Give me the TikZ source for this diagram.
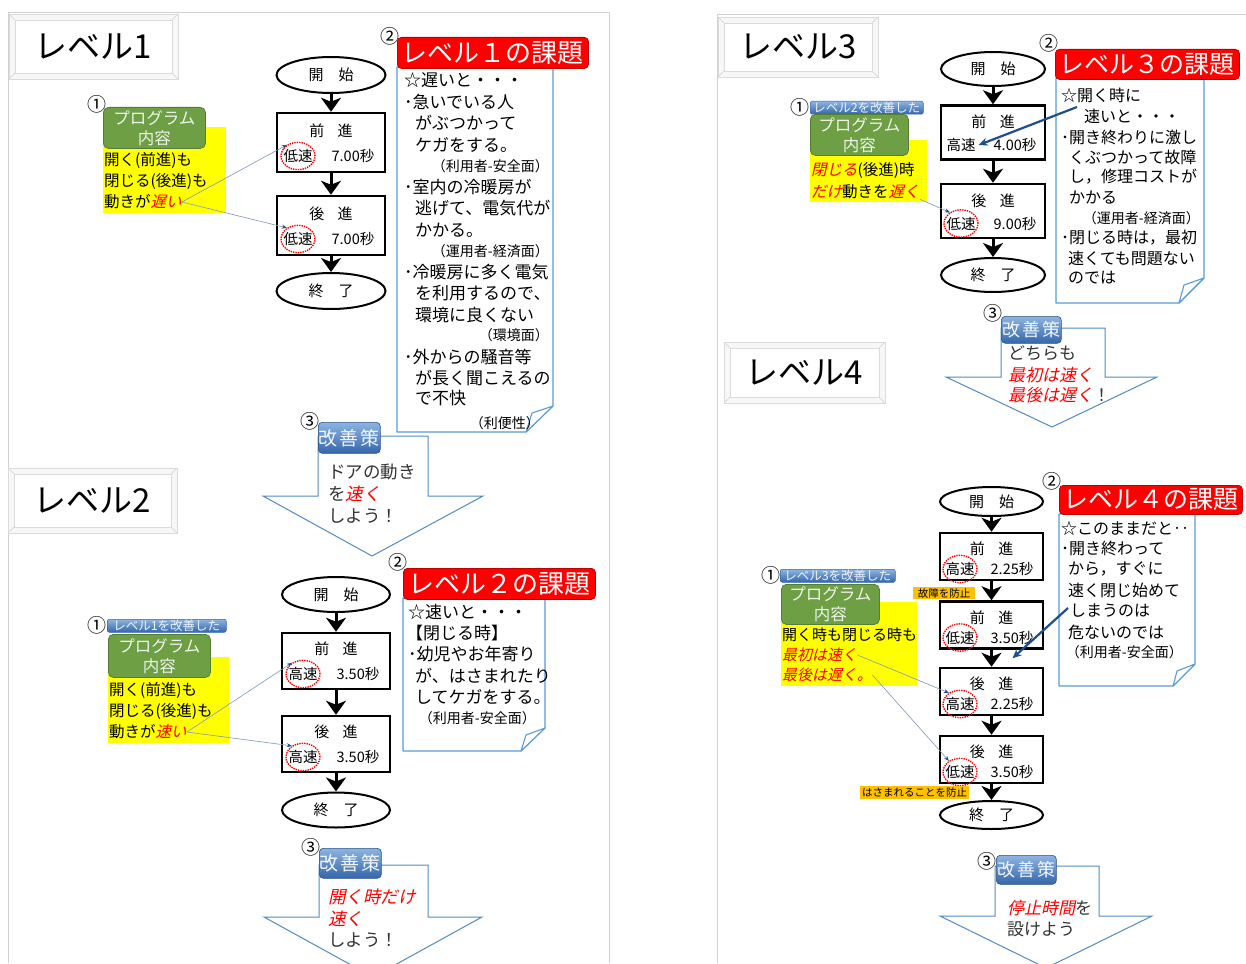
\documentclass[tikz,border=0pt]{standalone}
\usepackage{fontspec}
\setmainfont{Noto Sans CJK JP}
\newfontfamily\jpslant[FakeSlant=0.22]{Noto Sans CJK JP}
\usepackage{tikz}
\usetikzlibrary{arrows.meta,positioning,calc,shapes.geometric}
\definecolor{darkred}{HTML}{C00000}
\definecolor{leaf}{HTML}{6E9F45}
\definecolor{leafdark}{HTML}{557D33}
\definecolor{lemon}{HTML}{FFFF00}
\definecolor{amber}{HTML}{FFC000}
\definecolor{steel}{HTML}{5B9BD5}
\definecolor{navy}{HTML}{1F4E8C}
\definecolor{linkblue}{HTML}{7F96B8}
\definecolor{skytop}{HTML}{8DB4E2}
\definecolor{skybot}{HTML}{3466AA}
\definecolor{frame}{HTML}{D0D0D0}
\newcommand{\redit}[1]{{\color{red}\jpslant #1}}

\begin{document}
\begin{tikzpicture}[x=1pt,y=-1pt,
  panel/.style={draw=frame,line width=0.9pt},
  bevel/.style={draw=gray!28,line width=0.8pt},
  lvtitle/.style={font=\fontsize{33}{33}\selectfont,inner sep=0pt},
  terminal/.style={ellipse,draw,line width=2pt,font=\fontsize{15}{15}\selectfont,inner sep=0pt},
  proc/.style={draw,line width=2.5pt,inner sep=0pt},
  phead/.style={font=\fontsize{15}{15}\selectfont,inner sep=0pt},
  pspeed/.style={font=\fontsize{14.5}{15}\selectfont,inner sep=0pt},
  ring/.style={ellipse,draw=red,densely dotted,line width=1.4pt,inner xsep=-2.5pt,inner ysep=3pt},
  noring/.style={},
  flow/.style={line width=3pt,-{Stealth[length=14pt,width=20pt,inset=4pt]}},
  num/.style={font=\fontsize{19}{19}\selectfont,inner sep=0pt},
  prog/.style={rounded corners=5pt,fill=leaf,draw=leafdark,line width=0.8pt,text=white!88!leaf,
    align=center,font=\fontsize{16.5}{20}\selectfont,inner sep=0pt,anchor=north west},
  memo/.style={fill=lemon,inner sep=0pt,anchor=north west},
  memotext/.style={font=\fontsize{15.5}{16}\selectfont,inner sep=0pt,anchor=west},
  badge/.style={rounded corners=2pt,top color=skytop,bottom color=skybot,draw=skybot,line width=0.5pt,
    text=white!85!skytop,font=\fontsize{12.5}{12.5}\selectfont,inner sep=0pt,anchor=north west},
  leader/.style={draw=linkblue,line width=0.6pt,-{Stealth[length=5pt,width=4pt,color=navy]}},
  issue/.style={rounded corners=4pt,fill=red,draw=darkred,line width=0.8pt,text=white,
    font=\fontsize{26}{26}\selectfont,inner sep=0pt,anchor=north west},
  sheet/.style={draw=steel,fill=white,line width=1.1pt,line join=round},
  note/.style={font=\fontsize{17}{17}\selectfont,inner sep=0pt,anchor=west},
  notes/.style={font=\fontsize{16}{16}\selectfont,inner sep=0pt,anchor=west},
  facet/.style={font=\fontsize{14}{14}\selectfont,inner sep=0pt,anchor=east},
  hint/.style={draw=navy,line width=2.2pt,-{Stealth[length=9pt,width=8pt]}},
  remedy/.style={rounded corners=4pt,top color=skytop,bottom color=skybot,draw=skybot!80!black,line width=0.6pt,
    text=white!90!skytop,font=\fontsize{19}{19}\selectfont,inner sep=0pt,anchor=north west},
  downshape/.style={draw=steel!90!black,fill=white,line width=1pt},
  advice/.style={font=\fontsize{17.5}{18}\selectfont,inner sep=0pt,anchor=west,text=black!80},
  guard/.style={fill=amber,font=\fontsize{10.5}{10.5}\selectfont,inner sep=0pt,anchor=north west}]
  \fill[white] (0,0) rectangle (1246,963);
  \useasboundingbox (0,0) rectangle (1246,963);
  % two panels
  \draw[panel] (8,963) -- (8,12) -- (609,12) -- (609,963);
  \draw[panel] (717,963) -- (717,14) -- (1246,14);
  % level titles
  \foreach \n/\xa/\ya/\xb/\yb in {1/9/14/178/79,2/8/468/177/533,3/718/17/878/77,4/724/342/885/403}{
    \filldraw[bevel,fill=gray!6] (\xa,\ya) rectangle (\xb,\yb);
    \filldraw[bevel,fill=white] (\xa+6,\ya+6) rectangle (\xb-6,\yb-6);
    \draw[bevel] (\xa,\ya) -- (\xa+6,\ya+6) (\xb,\ya) -- (\xb-6,\ya+6)
      (\xa,\yb) -- (\xa+6,\yb-6) (\xb,\yb) -- (\xb-6,\yb-6);
    \node[lvtitle] (T\n) at ({(\xa+\xb)/2},{(\ya+\yb)/2}) {レベル\n};}

  % ---------------- level 1 ----------------
  \node[terminal,minimum width=109,minimum height=36] (L1s) at (331,75) {開\hspace{1em}始};
  \foreach \nm/\cy/\hd/\sp/\sec/\mk in {L1f/142.5/前/低速/7.00/ring,L1b/225.5/後/低速/7.00/ring}{
    \node[proc,minimum width=108,minimum height=59] (\nm) at (331,\cy) {};
    \node[phead] (\nm-h) at (331,\cy-11.5) {\hd\hspace{0.9em}進};
    \node[pspeed,\mk] (\nm-s) at (298,\cy+13.5) {\sp};
    \node[pspeed] (\nm-t) at (353,\cy+13.5) {\sec 秒};}
  \node[terminal,minimum width=109,minimum height=36] (L1e) at (331,291) {終\hspace{1em}了};
  \foreach \a/\b in {L1s/L1f,L1f/L1b,L1b/L1e} \draw[flow] (\a) -- (\b);
  % program
  \node[num] (L1n1) at (97,104) {①};
  \node[memo,minimum width=123,minimum height=86] (L1y) at (103,127) {};
  \node[prog,minimum width=102,minimum height=41] (L1p) at (103,107) {プログラム\\内容};
  \foreach \txt/\y [count=\i] in {{開く(前進)も}/160,{閉じる(後進)も}/182,{動きが\redit{遅い}}/202}
    \node[memotext] (L1m\i) at (104,\y) {\txt};
  \draw[leader] (L1m3.east) -- (L1f-s.135);
  \draw[leader] (L1m3.east) -- (L1b-s.135);
  % issue
  \node[num] (L1n2) at (390,36) {②};
  \filldraw[sheet] (397,67) -- (553,67) -- (553,406) -- (526,432) -- (397,432) -- cycle;
  \filldraw[sheet] (553,406) -- (532,413) -- (526,432) -- cycle;
  \node[issue,minimum width=191,minimum height=31] (L1i) at (397,37) {レベル１の課題};
  \foreach \st/\x/\y/\txt [count=\k] in {note/404/80/{☆遅いと・・・},note/404/102/{･急いでいる人},
      note/415/123/{がぶつかって},note/415/145/{ケガをする。},facet/549/166/{（利用者-安全面）},
      note/404/187/{･室内の冷暖房が},note/415/208/{逃げて、電気代が},note/415/230/{かかる。},
      facet/549/251/{（運用者-経済面）},note/404/272/{･冷暖房に多く電気},note/415/293/{を利用するので、},
      note/415/315/{環境に良くない},facet/549/335/{（環境面）},note/404/357/{･外からの騒音等},
      note/415/378/{が長く聞こえるの},note/415/398/{で不快},facet/540/423/{（利便性）}}
    \node[\st] (L1q\k) at (\x,\y) {\txt};
  % remedy
  \filldraw[downshape] (318,436) -- (428,436) -- (428,496) -- (483,496) -- (372,556) -- (263,496) -- (318,496) -- cycle;
  \foreach \txt/\y [count=\k] in {{ドアの動き}/472,{を\redit{速く}}/494,{しよう！}/516}
    \node[advice] (L1r\k) at (328,\y) {\txt};
  \node[remedy,minimum width=62,minimum height=31] (L1k) at (318,422) {改\hspace{0.1em}善\hspace{0.1em}策};
  \node[num] (L1n3) at (310,421) {③};

  % ---------------- level 2 ----------------
  \node[terminal,minimum width=108,minimum height=35] (L2s) at (336,594.5) {開\hspace{1em}始};
  \foreach \nm/\cy/\hd/\sp/\sec/\mk in {L2f/661/前/高速/3.50/ring,L2b/744/後/高速/3.50/ring}{
    \node[proc,minimum width=108,minimum height=56] (\nm) at (336,\cy) {};
    \node[phead] (\nm-h) at (336,\cy-12) {\hd\hspace{0.9em}進};
    \node[pspeed,\mk] (\nm-s) at (303,\cy+13) {\sp};
    \node[pspeed] (\nm-t) at (358,\cy+13) {\sec 秒};}
  \node[terminal,minimum width=108,minimum height=35] (L2e) at (336,810) {終\hspace{1em}了};
  \foreach \a/\b in {L2s/L2f,L2f/L2b,L2b/L2e} \draw[flow] (\a) -- (\b);
  % program
  \node[num] (L2n1) at (97,625) {①};
  \node[badge,minimum width=119,minimum height=13] (L2g) at (107,619) {レベル1を改善した};
  \node[memo,minimum width=121,minimum height=86] (L2y) at (108,657) {};
  \node[prog,minimum width=102,minimum height=43] (L2p) at (108,634) {プログラム\\内容};
  \foreach \txt/\y [count=\i] in {{開く(前進)も}/690,{閉じる(後進)も}/711,{動きが\redit{速い}}/732}
    \node[memotext] (L2m\i) at (109,\y) {\txt};
  \draw[leader] (L2m3.east) -- (L2f-s.135);
  \draw[leader] (L2m3.east) -- (L2b-s.135);
  % issue
  \node[num] (L2n2) at (398,562) {②};
  \filldraw[sheet] (403,598) -- (545,598) -- (545,728) -- (521,751) -- (403,751) -- cycle;
  \filldraw[sheet] (545,728) -- (526,735) -- (521,751) -- cycle;
  \node[issue,minimum width=192,minimum height=31] (L2i) at (403,568) {レベル２の課題};
  \foreach \st/\x/\y/\txt [count=\k] in {note/408/612/{☆速いと・・・},note/406/633/{【閉じる時】},
      note/408/654/{･幼児やお年寄り},note/415/676/{が、はさまれたり},note/415/697/{してケガをする。},
      facet/536/718/{（利用者-安全面）}}
    \node[\st] (L2q\k) at (\x,\y) {\txt};
  % remedy
  \filldraw[downshape] (319,865) -- (428,865) -- (428,917) -- (482,917) -- (373,977) -- (264,917) -- (319,917) -- cycle;
  \foreach \txt/\y [count=\k] in {{\redit{開く時だけ}}/897,{\redit{速く}}/919,{しよう！}/940}
    \node[advice] (L2r\k) at (328,\y) {\txt};
  \node[remedy,minimum width=62,minimum height=30] (L2k) at (319,848) {改\hspace{0.1em}善\hspace{0.1em}策};
  \node[num] (L2n3) at (311,847) {③};

  % ---------------- level 3 ----------------
  \node[terminal,minimum width=104,minimum height=34] (L3s) at (993,69) {開\hspace{1em}始};
  \foreach \nm/\cy/\hd/\sp/\sec/\mk in {L3f/132.5/前/高速/4.00/noring,L3b/211/後/低速/9.00/ring}{
    \node[proc,minimum width=104,minimum height=54] (\nm) at (993,\cy) {};
    \node[phead] (\nm-h) at (993,\cy-10.5) {\hd\hspace{0.9em}進};
    \node[pspeed,\mk] (\nm-s) at (961,\cy+12.5) {\sp};
    \node[pspeed] (\nm-t) at (1015,\cy+12.5) {\sec 秒};}
  \node[terminal,minimum width=104,minimum height=34] (L3e) at (993,275) {終\hspace{1em}了};
  \foreach \a/\b in {L3s/L3f,L3f/L3b,L3b/L3e} \draw[flow] (\a) -- (\b);
  % program
  \node[num] (L3n1) at (800,107) {①};
  \node[badge,minimum width=113,minimum height=13] (L3g) at (810,101) {レベル2を改善した};
  \node[memo,minimum width=117,minimum height=62] (L3y) at (810,140) {};
  \node[prog,minimum width=98,minimum height=41] (L3p) at (810,114) {プログラム\\内容};
  \foreach \txt/\y [count=\i] in {{\redit{閉じる}(後進)時}/171,{\redit{だけ}動きを\redit{遅く}}/192}
    \node[memotext] (L3m\i) at (811,\y) {\txt};
  \draw[leader] (L3m2.south east) -- (L3b-s.135);
  % issue
  \node[num] (L3n2) at (1049,43) {②};
  \filldraw[sheet] (1056,78) -- (1204,78) -- (1204,278) -- (1179,303) -- (1056,303) -- cycle;
  \filldraw[sheet] (1204,278) -- (1184,285) -- (1179,303) -- cycle;
  \node[issue,minimum width=184,minimum height=30,font=\fontsize{25}{25}\selectfont] (L3i) at (1055,49) {レベル３の課題};
  \foreach \st/\x/\y/\txt [count=\k] in {notes/1061/95/{☆開く時に},notes/1084/116/{速いと・・・},
      notes/1061/137/{･開き終わりに激し},notes/1069/157/{くぶつかって故障},notes/1069/177/{し，修理コストが},
      notes/1069/198/{かかる},facet/1200/218/{（運用者-経済面）},notes/1061/238/{･閉じる時は，最初},
      notes/1068/258/{速くても問題ない},notes/1068/278/{のでは}}
    \node[\st] (L3q\k) at (\x,\y) {\txt};
  \coordinate (L3why) at (1077,107);
  \draw[hint] (L3why) -- ([xshift=3]L3f-s.east);
  % remedy
  \filldraw[downshape] (1001,328) -- (1105,328) -- (1105,377) -- (1157,377) -- (1052,427) -- (946,377) -- (1001,377) -- cycle;
  \foreach \txt/\y [count=\k] in {{どちらも}/353,{\redit{最初は速く}}/375,{\redit{最後は遅く}！}/395}
    \node[advice,font=\fontsize{17}{17}\selectfont] (L3r\k) at (1008,\y) {\txt};
  \node[remedy,minimum width=60,minimum height=27,font=\fontsize{18}{18}\selectfont] (L3k) at (1001,316) {改\hspace{0.1em}善\hspace{0.1em}策};
  \node[num] (L3n3) at (993,313) {③};

  % ---------------- level 4 ----------------
  \node[terminal,minimum width=103,minimum height=29] (L4s) at (991.5,501.5) {開\hspace{1em}始};
  \foreach \nm/\cy/\hd/\sp/\sec in {L4f1/556.5/前/高速/2.25,L4f2/625/前/低速/3.50,
      L4b1/691.5/後/高速/2.25,L4b2/759.5/後/低速/3.50}{
    \node[proc,minimum width=103,minimum height=47] (\nm) at (991.5,\cy) {};
    \node[phead] (\nm-h) at (991.5,\cy-7.5) {\hd\hspace{0.9em}進};
    \node[pspeed,ring] (\nm-s) at (960,\cy+12.5) {\sp};
    \node[pspeed] (\nm-t) at (1012,\cy+12.5) {\sec 秒};}
  \node[terminal,minimum width=103,minimum height=28] (L4e) at (991.5,815) {終\hspace{1em}了};
  \foreach \a/\b in {L4s/L4f1,L4f1/L4f2,L4f2/L4b1,L4b1/L4b2,L4b2/L4e} \draw[flow] (\a) -- (\b);
  \node[guard,minimum width=62,minimum height=12] (L4w1) at (913,587) {故障を防止};
  \node[guard,minimum width=109,minimum height=13] (L4w2) at (860,786) {はさまれることを防止};
  % program
  \node[num] (L4n1) at (771,575) {①};
  \node[badge,minimum width=115,minimum height=13] (L4g) at (780,569) {レベル3を改善した};
  \node[memo,minimum width=136,minimum height=84] (L4y) at (781,602) {};
  \node[prog,minimum width=98,minimum height=40] (L4p) at (781,584) {プログラム\\内容};
  \foreach \txt/\y [count=\i] in {{開く時も閉じる時も}/635,{\redit{最初は速く}}/655,{\redit{最後は遅く。}}/675}
    \node[memotext,font=\fontsize{15}{15}\selectfont] (L4m\i) at (782,\y) {\txt};
  \draw[leader] (L4m2.east) -- (L4b1-s.135);
  \draw[leader] (L4m3.east) -- (L4b2-s.135);
  % issue
  \node[num] (L4n2) at (1052,481) {②};
  \filldraw[sheet] (1059,514) -- (1195,514) -- (1195,664) -- (1173,686) -- (1059,686) -- cycle;
  \filldraw[sheet] (1195,664) -- (1177,671) -- (1173,686) -- cycle;
  \node[issue,minimum width=183,minimum height=29,font=\fontsize{25}{25}\selectfont] (L4i) at (1059,485) {レベル４の課題};
  \foreach \st/\x/\y/\txt [count=\k] in {notes/1061/528/{☆このままだと‥},notes/1061/548/{･開き終わって},
      notes/1068/569/{から，すぐに},notes/1068/590/{速く閉じ始めて},notes/1070/611/{しまうのは},
      notes/1068/632/{危ないのでは},facet/1183/652/{（利用者-安全面）}}
    \node[\st] (L4q\k) at (\x,\y) {\txt};
  \coordinate (L4why) at (1068,608);
  \coordinate (L4gap) at ($(L4f2.south)!0.5!(L4b1.north)+(21,0)$);
  \draw[hint] (L4why) -- (L4gap);
  % remedy
  \filldraw[downshape] (995,866) -- (1099,866) -- (1099,916) -- (1152,916) -- (1046,968) -- (940,916) -- (995,916) -- cycle;
  \foreach \txt/\y [count=\k] in {{\redit{停止時間}を}/908,{設けよう}/929}
    \node[advice,font=\fontsize{17}{17}\selectfont] (L4r\k) at (1007,\y) {\txt};
  \node[remedy,minimum width=60,minimum height=29,font=\fontsize{18}{18}\selectfont] (L4k) at (996,855) {改\hspace{0.1em}善\hspace{0.1em}策};
  \node[num] (L4n3) at (987,861) {③};
\end{tikzpicture}
\end{document}
